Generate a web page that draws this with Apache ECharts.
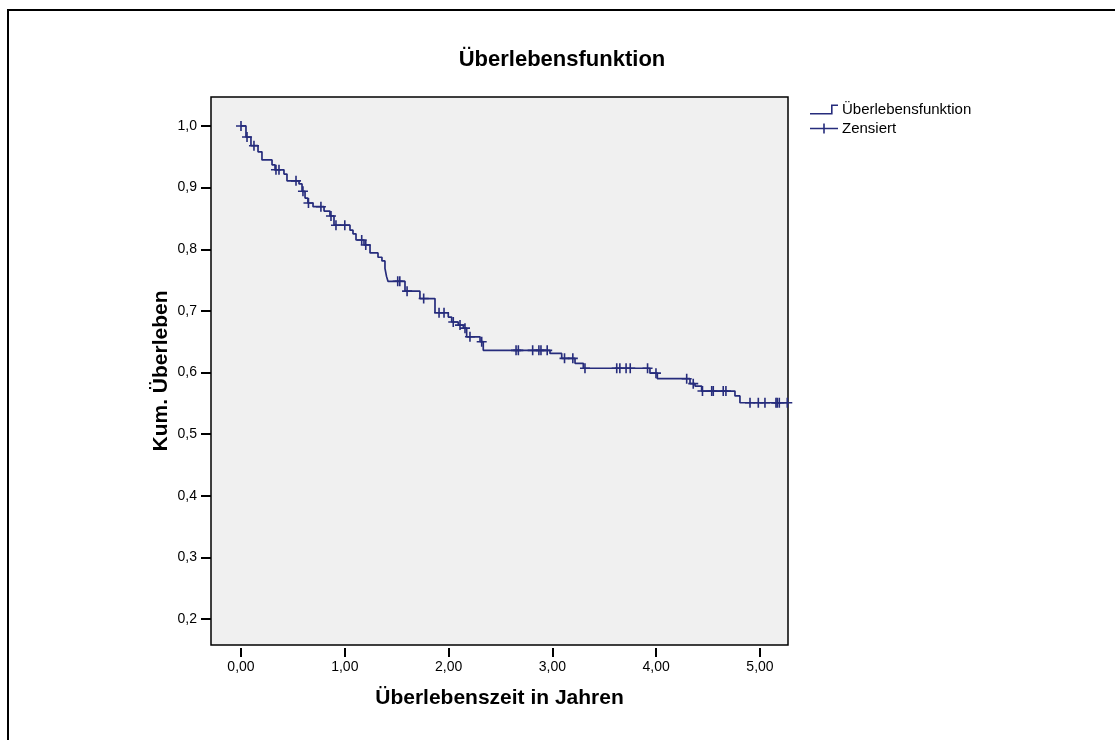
<!DOCTYPE html>
<html>
<head>
<meta charset="utf-8">
<title>Überlebensfunktion</title>
<script src="https://cdn.jsdelivr.net/npm/echarts@6/dist/echarts.min.js"></script>
<style>
  html, body { margin: 0; padding: 0; background: #fff; }
  #chart { width: 1115px; height: 740px; }
</style>
</head>
<body>
<div id="chart"></div>
<script>
// Kaplan-Meier estimate: time of each event (years) and survival after it
const eventTimes = [
  0.048, 0.096, 0.164, 0.202, 0.299, 0.328, 0.414, 0.443, 0.559, 0.588,
  0.617, 0.645, 0.694, 0.800, 0.857, 0.896, 1.050, 1.079, 1.108, 1.185,
  1.243, 1.320, 1.358, 1.387, 1.402, 1.416, 1.580, 1.724, 1.869, 1.997,
  2.030, 2.093, 2.142, 2.174, 2.303, 2.334, 2.977, 3.090, 3.218, 3.298,
  3.940, 4.011, 4.326, 4.374, 4.438, 4.759, 4.807
];
const survival = [
  0.982, 0.968, 0.958, 0.945, 0.937, 0.929, 0.922, 0.911, 0.906, 0.894,
  0.883, 0.875, 0.869, 0.862, 0.854, 0.839, 0.831, 0.825, 0.815, 0.807,
  0.794, 0.787, 0.781, 0.769, 0.756, 0.748, 0.732, 0.720, 0.697, 0.690,
  0.682, 0.677, 0.672, 0.658, 0.650, 0.636, 0.631, 0.623, 0.615, 0.607,
  0.599, 0.590, 0.582, 0.578, 0.570, 0.562, 0.551
];
const followUpEnd = 5.27;

// Censored observations (years)
const censorTimes = [
  0.000, 0.058, 0.125, 0.337, 0.366, 0.530, 0.597, 0.650, 0.770, 0.867,
  0.915, 1.000, 1.163, 1.202, 1.510, 1.530, 1.600, 1.760, 1.908, 1.956,
  2.045, 2.110, 2.158, 2.206, 2.319, 2.650, 2.672, 2.810, 2.870, 2.890,
  2.950, 3.117, 3.197, 3.314, 3.620, 3.650, 3.710, 3.750, 3.917, 3.998,
  4.294, 4.357, 4.446, 4.535, 4.550, 4.646, 4.672, 4.904, 4.984, 5.048,
  5.154, 5.166, 5.186, 5.263
];

const yTicks = [0.2, 0.3, 0.4, 0.5, 0.6, 0.7, 0.8, 0.9, 1.0];
const xTicks = [0, 1, 2, 3, 4, 5];

const LINE_COLOR = '#262c7c';
const FONT = '"Liberation Sans", Arial, sans-serif';

function survivalAt(t) {
  let s = 1.0;
  for (let i = 0; i < eventTimes.length; i++) {
    if (eventTimes[i] <= t) s = survival[i]; else break;
  }
  return s;
}

const curve = [[0, 1.0]];
eventTimes.forEach((t, i) => curve.push([t, survival[i]]));
curve.push([followUpEnd, survival[survival.length - 1]]);

const censored = censorTimes.map(t => [t, survivalAt(t)]);

const plusPath = 'path://M4.2,0h1.6v10h-1.6z M0,4.2h10v1.6h-10z';
const legendStepIcon = 'path://M0,8.4h22.6v1.6h-22.6z M21,0h1.6v10h-1.6z M21,0h7v1.6h-7z';
const legendPlusIcon = 'path://M0,4.2h28v1.6h-28z M13.2,0h1.6v10h-1.6z';

const chart = echarts.init(document.getElementById('chart'), null, { renderer: 'canvas' });

chart.setOption({
  animation: false,
  backgroundColor: '#ffffff',
  legend: {
    orient: 'vertical',
    left: 810,
    top: 102,
    padding: 0,
    itemWidth: 28,
    itemHeight: 10,
    itemGap: 4,
    selectedMode: false,
    itemStyle: { borderWidth: 0 },
    textStyle: { fontFamily: FONT, fontSize: 15, color: '#000', padding: [0, 0, 0, -1] },
    data: [
      { name: 'Überlebensfunktion', icon: legendStepIcon, itemStyle: { color: LINE_COLOR } },
      { name: 'Zensiert', icon: legendPlusIcon, itemStyle: { color: LINE_COLOR } }
    ]
  },
  grid: {
    left: 211,
    top: 97,
    right: 327,
    bottom: 95,
    show: true,
    backgroundColor: '#f0f0f0',
    borderColor: '#000',
    borderWidth: 1.5
  },
  xAxis: {
    type: 'value',
    min: -0.289,
    max: followUpEnd,
    offset: 3,
    name: 'Überlebenszeit in Jahren',
    nameLocation: 'middle',
    nameGap: 40,
    nameTextStyle: { fontFamily: FONT, fontSize: 21, fontWeight: 'bold', color: '#000' },
    axisLine: { show: false, onZero: false },
    splitLine: { show: false },
    axisTick: {
      show: true,
      length: 9,
      customValues: xTicks,
      lineStyle: { color: '#000', width: 2 }
    },
    axisLabel: {
      customValues: xTicks,
      margin: 12,
      fontFamily: FONT,
      fontSize: 14,
      color: '#000',
      formatter: v => v.toFixed(2).replace('.', ',')
    }
  },
  yAxis: {
    type: 'value',
    min: 0.158,
    max: 1.047,
    name: 'Kum. Überleben',
    nameLocation: 'middle',
    nameRotate: 90,
    nameGap: 39,
    nameMoveOverlap: false,
    nameTextStyle: { fontFamily: FONT, fontSize: 21, fontWeight: 'bold', color: '#000' },
    axisLine: { show: false, onZero: false },
    splitLine: { show: false },
    axisTick: {
      show: true,
      length: 10,
      customValues: yTicks,
      lineStyle: { color: '#000', width: 2 }
    },
    axisLabel: {
      customValues: yTicks,
      margin: 14,
      fontFamily: FONT,
      fontSize: 14,
      color: '#000',
      formatter: v => v.toFixed(1).replace('.', ',')
    }
  },
  series: [
    {
      name: 'Überlebensfunktion',
      type: 'line',
      step: 'end',
      data: curve,
      showSymbol: false,
      symbol: 'none',
      color: LINE_COLOR,
      lineStyle: { color: LINE_COLOR, width: 1.7 },
      z: 2
    },
    {
      name: 'Zensiert',
      type: 'scatter',
      data: censored,
      symbol: plusPath,
      symbolSize: 10,
      color: LINE_COLOR,
      itemStyle: { color: LINE_COLOR, opacity: 1 },
      z: 3
    }
  ],
  graphic: [
    {
      type: 'text',
      silent: true,
      x: 562,
      y: 60,
      style: {
        text: 'Überlebensfunktion',
        align: 'center',
        verticalAlign: 'middle',
        fontFamily: FONT,
        fontSize: 22,
        fontWeight: 'bold',
        fill: '#000'
      }
    },
    {
      type: 'polyline',
      silent: true,
      shape: { points: [[8, 740], [8, 10], [1115, 10]] },
      style: { stroke: '#000', lineWidth: 2, fill: null }
    }
  ]
});
</script>
</body>
</html>
